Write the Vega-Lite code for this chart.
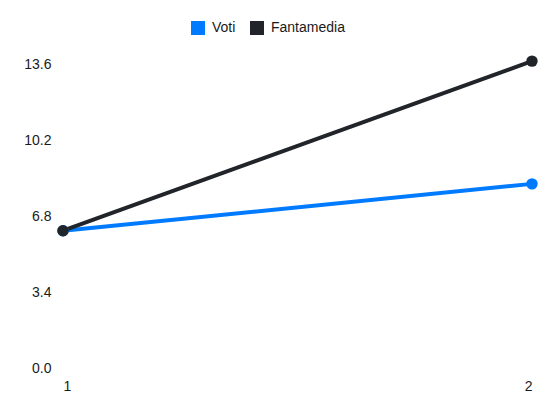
{
  "$schema": "https://vega.github.io/schema/vega-lite/v6.json",
  "width": 469,
  "height": 308,
  "autosize": "none",
  "padding": {"left": 63, "top": 60, "right": 18, "bottom": 44},
  "config": {
    "view": {"stroke": null},
    "font": "Liberation Sans",
    "axis": {"labelFont": "Liberation Sans", "labelFontSize": 14, "labelColor": "#1a1a1a", "grid": false, "domain": false, "ticks": false},
    "legend": {"labelFont": "Liberation Sans", "labelFontSize": 14, "labelColor": "#1a1a1a"}
  },
  "data": {
    "values": [
      {"giornata": 1, "serie": "Voti", "valore": 6.15},
      {"giornata": 2, "serie": "Voti", "valore": 8.25},
      {"giornata": 1, "serie": "Fantamedia", "valore": 6.15},
      {"giornata": 2, "serie": "Fantamedia", "valore": 13.75}
    ]
  },
  "encoding": {
    "x": {
      "field": "giornata", "type": "quantitative",
      "scale": {"domain": [1, 2], "nice": false, "zero": false},
      "axis": {"title": null, "values": [1, 2], "format": "d", "labelPadding": 11}
    },
    "y": {
      "field": "valore", "type": "quantitative",
      "scale": {"domain": [0, 13.8], "nice": false},
      "axis": {"title": null, "values": [0, 3.4, 6.8, 10.2, 13.6], "format": ".1f", "labelPadding": 12}
    },
    "color": {
      "field": "serie", "type": "nominal",
      "scale": {"domain": ["Voti", "Fantamedia"], "range": ["#007bff", "#212529"]},
      "legend": {
        "title": null, "orient": "none", "direction": "horizontal",
        "legendX": 128, "legendY": -39, "padding": 0,
        "symbolType": "square", "symbolSize": 196, "symbolStrokeWidth": 0,
        "labelOffset": 7, "columnPadding": 14
      }
    }
  },
  "layer": [
    {"mark": {"type": "line", "strokeWidth": 4}},
    {"mark": {"type": "point", "filled": true, "size": 130, "opacity": 1}}
  ]
}
